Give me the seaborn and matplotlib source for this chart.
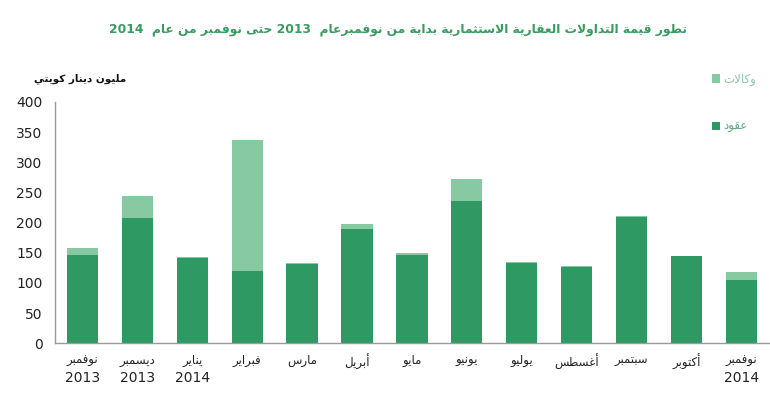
"""
Stacked bar chart of real-estate investment trading value, Nov 2013 - Nov 2014
"""

## Import packages
import re
import pandas as pd
import matplotlib
matplotlib.use('Agg')
import matplotlib.pyplot as plt
from matplotlib.patches import Patch
import seaborn as sns


## Data
months = ['نوفمبر', 'ديسمبر', 'يناير', 'فبراير', 'مارس', 'أبريل', 'مايو',
          'يونيو', 'يوليو', 'أغسطس', 'سبتمبر', 'أكتوبر', 'نوفمبر']
years = ['2013', '2013', '2014', '', '', '', '', '', '', '', '', '', '2014']
contracts = [147, 207, 141, 120, 132, 190, 146, 236, 133, 127, 209, 144, 104]
agencies = [10, 37, 2, 217, 1, 7, 3, 36, 1, 1, 2, 1, 14]
yticks = [0, 50, 100, 150, 200, 250, 300, 350, 400]

title_txt = 'تطور قيمة التداولات العقارية الاستثمارية بداية من نوفمبرعام  2013 حتى نوفمبر من عام  2014'
ylabel_txt = 'مليون دينار كويتي'
label_contracts = 'عقود'
label_agencies = 'وكالات'


## Minimal Arabic shaping (matplotlib has no complex text layout)
FORMS = {'ء': (0xFE80, 1), 'آ': (0xFE81, 2), 'أ': (0xFE83, 2), 'ؤ': (0xFE85, 2),
         'إ': (0xFE87, 2), 'ئ': (0xFE89, 4), 'ا': (0xFE8D, 2), 'ب': (0xFE8F, 4),
         'ة': (0xFE93, 2), 'ت': (0xFE95, 4), 'ث': (0xFE99, 4), 'ج': (0xFE9D, 4),
         'ح': (0xFEA1, 4), 'خ': (0xFEA5, 4), 'د': (0xFEA9, 2), 'ذ': (0xFEAB, 2),
         'ر': (0xFEAD, 2), 'ز': (0xFEAF, 2), 'س': (0xFEB1, 4), 'ش': (0xFEB5, 4),
         'ص': (0xFEB9, 4), 'ض': (0xFEBD, 4), 'ط': (0xFEC1, 4), 'ظ': (0xFEC5, 4),
         'ع': (0xFEC9, 4), 'غ': (0xFECD, 4), 'ف': (0xFED1, 4), 'ق': (0xFED5, 4),
         'ك': (0xFED9, 4), 'ل': (0xFEDD, 4), 'م': (0xFEE1, 4), 'ن': (0xFEE5, 4),
         'ه': (0xFEE9, 4), 'و': (0xFEED, 2), 'ى': (0xFEEF, 2), 'ي': (0xFEF1, 4)}
LAM_ALEF = {'آ': 0xFEF5, 'أ': 0xFEF7, 'إ': 0xFEF9, 'ا': 0xFEFB}


def shape(text):
    out = []
    prev_joins = False
    i = 0
    while i < len(text):
        c = text[i]
        if c not in FORMS:
            out.append(c)
            prev_joins = False
            i += 1
            continue
        nxt = text[i + 1] if i + 1 < len(text) else ''
        if c == 'ل' and nxt in LAM_ALEF:
            out.append(chr(LAM_ALEF[nxt] + (1 if prev_joins else 0)))
            prev_joins = False
            i += 2
            continue
        base, kind = FORMS[c]
        link_next = kind == 4 and nxt in FORMS
        if kind == 1:
            form = base
        elif prev_joins and link_next:
            form = base + 3
        elif prev_joins:
            form = base + 1
        elif link_next:
            form = base + 2
        else:
            form = base
        out.append(chr(form))
        prev_joins = kind == 4
        i += 1
    return ''.join(out)


def ar(text):
    # Reverse for right-to-left display, keep digit runs left-to-right
    s = shape(text)[::-1]
    return re.sub(r'[0-9]+', lambda m: m.group(0)[::-1], s)


## Dataframe
df = pd.DataFrame({'key': [str(i) for i in range(len(months))],
                   'contracts': contracts,
                   'agencies': agencies})
df['total'] = df['contracts'] + df['agencies']


## Figure parameters
dark = '#2f9963'
light = '#86c9a3'
title_green = '#3a9a60'

sns.set_theme(style='white')
plt.rcParams['font.family'] = ['DejaVu Sans']

fig = plt.figure(figsize=(7.7, 4.11), dpi=100)
ax = fig.add_axes([0.0714, 0.165, 0.927, 0.587])

# Stacked bars: total in light colour, contracts drawn over it
sns.barplot(ax=ax, data=df, x='key', y='total', color=light, saturation=1,
            width=0.57, errorbar=None, linewidth=0)
sns.barplot(ax=ax, data=df, x='key', y='contracts', color=dark, saturation=1,
            width=0.57, errorbar=None, linewidth=0)

ax.set_xlim(-0.5, len(months) - 0.5)
ax.set_ylim(0, 400)
ax.set_yticks(yticks)
ax.set_yticklabels([str(t) for t in yticks], fontsize=10, color='#222222')

# Month tick labels; years placed on a second line below
ax.set_xticks(range(len(months)))
ax.set_xticklabels([ar(m) for m in months], fontsize=8.5, color='#222222')
for i, y in enumerate(years):
    if y:
        ax.text(i, -0.145, y, transform=ax.get_xaxis_transform(), ha='center',
                va='center', fontsize=10, color='#222222')
ax.tick_params(axis='both', length=0)
ax.tick_params(axis='x', pad=8)
ax.tick_params(axis='y', pad=9)
ax.set_xlabel('')
ax.set_ylabel('')

for side in ['top', 'right']:
    ax.spines[side].set_visible(False)
for side in ['left', 'bottom']:
    ax.spines[side].set_color('#9a9a9a')
    ax.spines[side].set_linewidth(1.0)

# Title and unit label
fig.text(0.517, 0.928, ar(title_txt), ha='center', va='center',
         fontsize=8.8, fontweight='bold', color=title_green)
fig.text(0.104, 0.81, ar(ylabel_txt), ha='center', va='center',
         fontsize=7.5, fontweight='bold', color='#111111')

# Legend
handles = [Patch(facecolor=light, edgecolor='none'),
           Patch(facecolor=dark, edgecolor='none')]
leg = ax.legend(handles, [ar(label_agencies), ar(label_contracts)],
                loc='upper left', bbox_to_anchor=(0.905, 1.165), frameon=False,
                fontsize=8.5, labelspacing=2.9, handlelength=0.7,
                handleheight=0.7, handletextpad=0.3)
for txt, col in zip(leg.get_texts(), ['#8cc7a6', '#5aab7e']):
    txt.set_color(col)

plt.savefig('out.png', dpi=100)
